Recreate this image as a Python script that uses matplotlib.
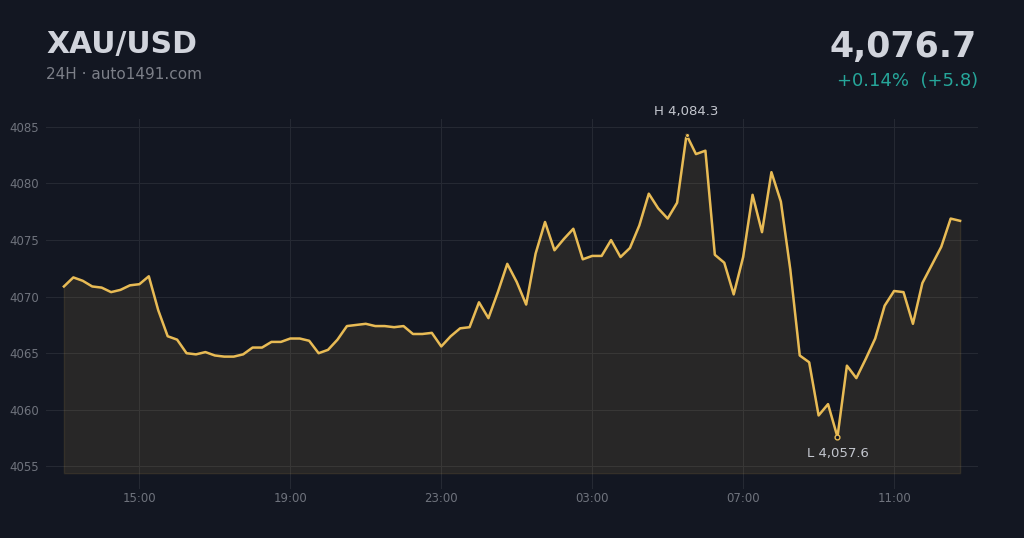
import matplotlib
matplotlib.use("Agg")
import matplotlib.pyplot as plt
import matplotlib.dates as mdates
import pandas as pd

# 24h of 15-minute quotes, starting at 13:00
prices = [
    4070.9, 4071.7, 4071.4, 4070.9, 4070.8, 4070.4, 4070.6, 4071.0, 4071.1, 4071.8,
    4068.8, 4066.5, 4066.2, 4065.0, 4064.9, 4065.1, 4064.8, 4064.7, 4064.7, 4064.9,
    4065.5, 4065.5, 4066.0, 4066.0, 4066.3, 4066.3, 4066.1, 4065.0, 4065.3, 4066.2,
    4067.4, 4067.5, 4067.6, 4067.4, 4067.4, 4067.3, 4067.4, 4066.7, 4066.7, 4066.8,
    4065.6, 4066.5, 4067.2, 4067.3, 4069.5, 4068.1, 4070.4, 4072.9, 4071.3, 4069.3,
    4073.8, 4076.6, 4074.1, 4075.1, 4076.0, 4073.3, 4073.6, 4073.6, 4075.0, 4073.5,
    4074.3, 4076.3, 4079.1, 4077.8, 4076.9, 4078.3, 4084.3, 4082.6, 4082.9, 4073.7,
    4073.0, 4070.2, 4073.5, 4079.0, 4075.7, 4081.0, 4078.4, 4072.4, 4064.8, 4064.2,
    4059.5, 4060.5, 4057.6, 4063.9, 4062.8, 4064.5, 4066.3, 4069.2, 4070.5, 4070.4,
    4067.6, 4071.2, 4072.8, 4074.4, 4076.9, 4076.7,
]
times = pd.date_range("2025-01-01 13:00", periods=len(prices), freq="15min")

symbol = "XAU/USD"
subtitle = "24H \u00b7 auto1491.com"
last_price = "4,076.7"
change_text = "+0.14%  (+5.8)"
y_ticks = [4055, 4060, 4065, 4070, 4075, 4080, 4085]

BG = "#131722"
GOLD = "#e8bb55"
GRID = "#252933"
TXT = "#d1d4dc"
MUTED = "#6f737d"

fig = plt.figure(figsize=(10.24, 5.38), dpi=100, facecolor=BG)
ax = fig.add_axes([0.0449, 0.0911, 0.9102, 0.6877])
ax.set_facecolor(BG)

hi_i = max(range(len(prices)), key=lambda i: prices[i])
lo_i = min(range(len(prices)), key=lambda i: prices[i])
base = prices[lo_i] - 3.2

ax.fill_between(times, prices, base, color=GOLD, alpha=0.1, zorder=2)
ax.plot(times, prices, color=GOLD, lw=1.8, zorder=3)

# high / low markers
ax.scatter([times[hi_i]], [prices[hi_i]], s=8, color=GOLD, edgecolor=BG,
           linewidth=0.6, zorder=4)
ax.scatter([times[lo_i]], [prices[lo_i]], s=12, color=BG, edgecolor=GOLD,
           linewidth=1.0, zorder=4)
ax.annotate(f"H {prices[hi_i]:,.1f}", (times[hi_i], prices[hi_i]),
            xytext=(0, 12), textcoords="offset points", ha="center", va="bottom",
            color="#c3c6ce", fontsize=9.5)
ax.annotate(f"L {prices[lo_i]:,.1f}", (times[lo_i], prices[lo_i]),
            xytext=(0, -7), textcoords="offset points", ha="center", va="top",
            color="#c3c6ce", fontsize=9.5)

ax.margins(x=0.02)
ax.set_ylim(4053.0, 4085.7)
ax.set_yticks(y_ticks)
ax.xaxis.set_major_locator(mdates.HourLocator(byhour=[15, 19, 23, 3, 7, 11]))
ax.xaxis.set_major_formatter(mdates.DateFormatter("%H:%M"))

ax.grid(True, color=GRID, lw=0.8, zorder=0)
for s in ax.spines.values():
    s.set_visible(False)
ax.tick_params(length=0, colors=MUTED, labelsize=8.5)
ax.tick_params(axis="y", pad=5)
ax.tick_params(axis="x", pad=2.5)

fig.text(0.0449, 0.9015, symbol, color=TXT, fontsize=21.5, fontweight="bold",
         ha="left", va="baseline")
fig.text(0.0449, 0.853, subtitle, color="#7c7f88", fontsize=11,
         ha="left", va="baseline")
fig.text(0.954, 0.894, last_price, color=TXT, fontsize=25, fontweight="bold",
         ha="right", va="baseline")
fig.text(0.955, 0.840, change_text, color="#26a69a", fontsize=13,
         ha="right", va="baseline")

fig.savefig("out.png", dpi=100, facecolor=BG)
